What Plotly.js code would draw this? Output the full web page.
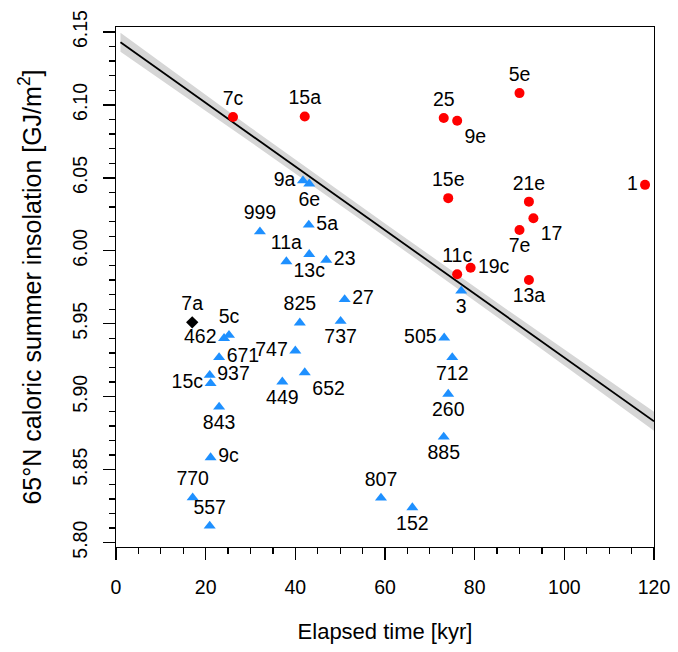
<!DOCTYPE html>
<html><head><meta charset="utf-8">
<script src="https://cdn.plot.ly/plotly-3.0.1.min.js"></script>
<style>html,body{margin:0;padding:0;background:#fff}</style>
</head><body><div id="chart" style="width:678px;height:652px"></div>
<script>
// ---- data ----
const redLabels = ['7c','15a','5e','25','9e','15e','21e','17','7e','1','11c','19c','13a'];
const redX = [26.1, 42.1, 90.0, 73.1, 76.1, 74.1, 92.1, 93.1, 90.0, 118.0, 76.1, 79.1, 92.1];
const redY = [6.0917, 6.0921, 6.1081, 6.0910, 6.0891, 6.0361, 6.0337, 6.0223, 6.0143, 6.0452, 5.9839, 5.9884, 5.9800];

const blueLabels = ['9a','6e','999','5a','11a','13c','23','5c','462','671','937','15c','843','9c','770','557','825','27','737','747','652','449','807','3','505','712','260','885','152'];
const blueX = [41.7, 43.1, 32.1, 43.0, 38.0, 43.1, 46.9, 25.2, 24.1, 23.0, 20.9, 21.1, 23.0, 21.1, 17.1, 20.9, 41.0, 51.0, 50.1, 40.0, 42.1, 37.1, 59.1, 77.0, 73.2, 75.0, 74.1, 73.1, 66.1];
const blueY = [6.0481, 6.0459, 6.0131, 6.0177, 5.9926, 5.9976, 5.9937, 5.9422, 5.9400, 5.9269, 5.9148, 5.9091, 5.8930, 5.8583, 5.8308, 5.8114, 5.9507, 5.9667, 5.9518, 5.9315, 5.9166, 5.9102, 5.8306, 5.9725, 5.9404, 5.9269, 5.9018, 5.8724, 5.8240];

const blackLabels = ['7a'];
const blackX = [17.0];
const blackY = [5.951];

// regression line and its confidence band
const fitX = [1, 120];
const fitY = [6.1429, 5.8832];
const bandX = [1, 30, 60, 90, 120];
const bandUpper = [6.1494, 6.0846, 6.0187, 5.9537, 5.8897];
const bandLower = [6.1364, 6.0746, 6.0097, 5.9437, 5.8767];

// ---- label placement (style) ----
const redPos = ['top center','top center','top center','top center','bottom right','top center','top center','bottom right','bottom center','middle left','top center','middle right','bottom center'];
const bluePos = ['middle left','bottom center','top center','middle right','top center','bottom center','middle right','top center','middle left','middle right','middle right','middle left','bottom center','middle right','top center','top center','top center','middle right','bottom center','middle left','bottom right','bottom center','top center','bottom center','middle left','bottom center','bottom center','bottom center','bottom center'];
const blackPos = ['top center'];

const FONT = 'Liberation Sans, Arial, Helvetica, sans-serif';
const labelFont = {family: FONT, size: 19.5, color: '#000'};

const traces = [
  {
    x: bandX.concat(bandX.slice().reverse()),
    y: bandUpper.concat(bandLower.slice().reverse()),
    type: 'scatter', mode: 'lines', fill: 'toself',
    fillcolor: '#d6d6d6', line: {width: 0, color: '#d6d6d6'},
    hoverinfo: 'skip', showlegend: false
  },
  {
    x: fitX, y: fitY, type: 'scatter', mode: 'lines',
    line: {color: '#000', width: 1.8}, showlegend: false
  },
  {
    x: redX, y: redY, text: redLabels, textposition: redPos,
    type: 'scatter', mode: 'markers+text', cliponaxis: false,
    marker: {symbol: 'circle', size: 10, color: '#ff0000'},
    textfont: labelFont, showlegend: false
  },
  {
    x: blueX, y: blueY, text: blueLabels, textposition: bluePos,
    type: 'scatter', mode: 'markers+text', cliponaxis: false,
    marker: {symbol: 'triangle-up', size: 10.5, color: '#1e90ff'},
    textfont: labelFont, showlegend: false
  },
  {
    x: blackX, y: blackY, text: blackLabels, textposition: blackPos,
    type: 'scatter', mode: 'markers+text', cliponaxis: false,
    marker: {symbol: 'diamond', size: 9.5, color: '#000'},
    textfont: labelFont, showlegend: false
  }
];

const axisCommon = {
  showgrid: false, zeroline: false,
  showline: true, linecolor: '#000', linewidth: 1.3, mirror: true,
  ticks: 'outside', ticklen: 12, tickwidth: 1.3, tickcolor: '#000',
  tickfont: {family: FONT, size: 19.5, color: '#000'}
};

const layout = {
  width: 678, height: 652,
  margin: {l: 116, r: 24, t: 27, b: 105},
  paper_bgcolor: '#fff', plot_bgcolor: '#fff',
  font: {family: FONT, color: '#000'},
  showlegend: false,
  xaxis: Object.assign({}, axisCommon, {
    range: [0, 120], tick0: 0, dtick: 20,
    ticklabelstandoff: 10,
    minor: {dtick: 5, ticks: 'outside', ticklen: 6, tickwidth: 1.3, tickcolor: '#000', showgrid: false},
    title: {text: 'Elapsed time [kyr]', font: {family: FONT, size: 22, color: '#000'}, standoff: 27}
  }),
  yaxis: Object.assign({}, axisCommon, {
    range: [5.797, 6.1534], tick0: 5.8, dtick: 0.05, tickformat: '.2f',
    tickangle: -90, ticklabelstandoff: 8,
    minor: {dtick: 0.01, ticks: 'outside', ticklen: 6, tickwidth: 1.3, tickcolor: '#000', showgrid: false},
    title: {text: '65°N caloric summer insolation [GJ/m<sup>2</sup>]', font: {family: FONT, size: 25, color: '#000'}, standoff: 20}
  })
};

Plotly.newPlot('chart', traces, layout, {staticPlot: true});
</script></body></html>
